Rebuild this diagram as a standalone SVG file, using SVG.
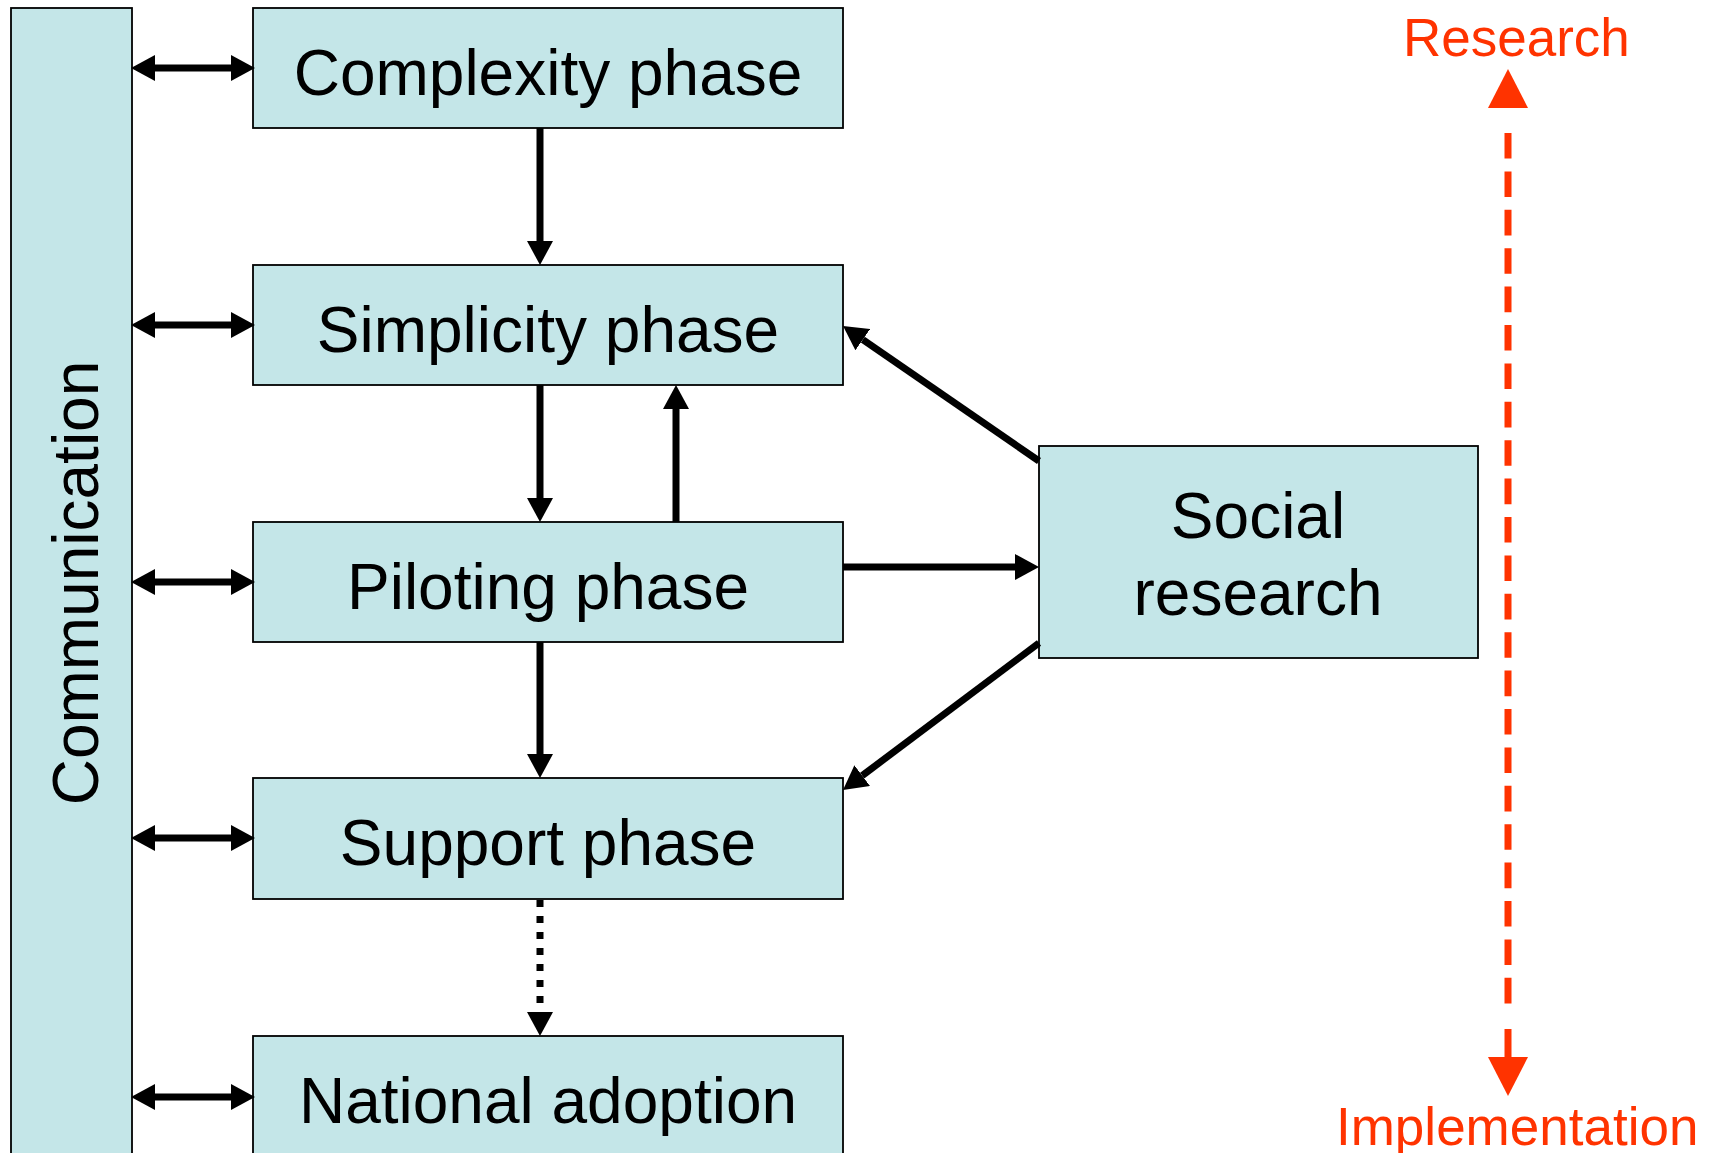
<svg xmlns="http://www.w3.org/2000/svg" width="1712" height="1153" viewBox="0 0 1712 1153">
<style>
.box{fill:#C4E6E8;stroke:#000;stroke-width:1.8}
.lbl{font-family:"Liberation Sans",Arial,sans-serif;font-size:64px;fill:#000;text-anchor:middle}
.red{font-family:"Liberation Sans",Arial,sans-serif;font-size:53px;fill:#FF3300}
.con{stroke:#000;stroke-width:7;fill:none}
</style>
<defs>
<marker id="ah" markerUnits="userSpaceOnUse" markerWidth="24" markerHeight="26" refX="0" refY="13" orient="auto-start-reverse" viewBox="0 0 24 26">
<path d="M0,0 L24,13 L0,26 z" fill="#000"/>
</marker>
</defs>
<rect width="1712" height="1153" fill="#fff"/>
<g id="communication">
<rect class="box" x="11" y="8" width="121" height="1160"/>
<text class="lbl" transform="translate(98,583) rotate(-90)">Communication</text>
</g>
<g id="complexity">
<rect class="box" x="253" y="8" width="590" height="120"/>
<text class="lbl" x="548" y="95">Complexity phase</text>
</g>
<g id="simplicity">
<rect class="box" x="253" y="265" width="590" height="120"/>
<text class="lbl" x="548" y="352">Simplicity phase</text>
</g>
<g id="piloting">
<rect class="box" x="253" y="522" width="590" height="120"/>
<text class="lbl" x="548" y="609">Piloting phase</text>
</g>
<g id="support">
<rect class="box" x="253" y="778" width="590" height="121"/>
<text class="lbl" x="548" y="865">Support phase</text>
</g>
<g id="national">
<rect class="box" x="253" y="1036" width="590" height="130"/>
<text class="lbl" x="548" y="1123">National adoption</text>
</g>
<g id="social">
<rect class="box" x="1039" y="446" width="439" height="212"/>
<text class="lbl" x="1258" y="538">Social</text>
<text class="lbl" x="1258" y="615">research</text>
</g>
<g id="connectors">
<line class="con" x1="155" y1="68" x2="231" y2="68" marker-start="url(#ah)" marker-end="url(#ah)"/>
<line class="con" x1="155" y1="325" x2="231" y2="325" marker-start="url(#ah)" marker-end="url(#ah)"/>
<line class="con" x1="155" y1="582" x2="231" y2="582" marker-start="url(#ah)" marker-end="url(#ah)"/>
<line class="con" x1="155" y1="838" x2="231" y2="838" marker-start="url(#ah)" marker-end="url(#ah)"/>
<line class="con" x1="155" y1="1097" x2="231" y2="1097" marker-start="url(#ah)" marker-end="url(#ah)"/>
<line class="con" x1="540" y1="128" x2="540" y2="241" marker-end="url(#ah)"/>
<line class="con" x1="540" y1="385" x2="540" y2="498" marker-end="url(#ah)"/>
<line class="con" x1="676" y1="522" x2="676" y2="409" marker-end="url(#ah)"/>
<line class="con" x1="540" y1="642" x2="540" y2="754" marker-end="url(#ah)"/>
<line class="con" x1="540" y1="900" x2="540" y2="1012" stroke-dasharray="7 9" marker-end="url(#ah)"/>
<line class="con" x1="843" y1="567" x2="1015" y2="567" marker-end="url(#ah)"/>
<line class="con" x1="1039" y1="461" x2="862.8" y2="339.6" marker-end="url(#ah)"/>
<line class="con" x1="1039" y1="643" x2="862.2" y2="775.6" marker-end="url(#ah)"/>
</g>
<g id="research-axis">
<line x1="1508" y1="133" x2="1508" y2="1004" stroke="#FF3300" stroke-width="7" stroke-dasharray="25.6 12.8"/>
<line x1="1508" y1="1029" x2="1508" y2="1058" stroke="#FF3300" stroke-width="7"/>
<polygon points="1508,69 1528,108 1488,108" fill="#FF3300"/>
<polygon points="1508,1096 1528,1057 1488,1057" fill="#FF3300"/>
<text class="red" x="1403" y="56">Research</text>
<text class="red" x="1336" y="1145">Implementation</text>
</g>
</svg>
